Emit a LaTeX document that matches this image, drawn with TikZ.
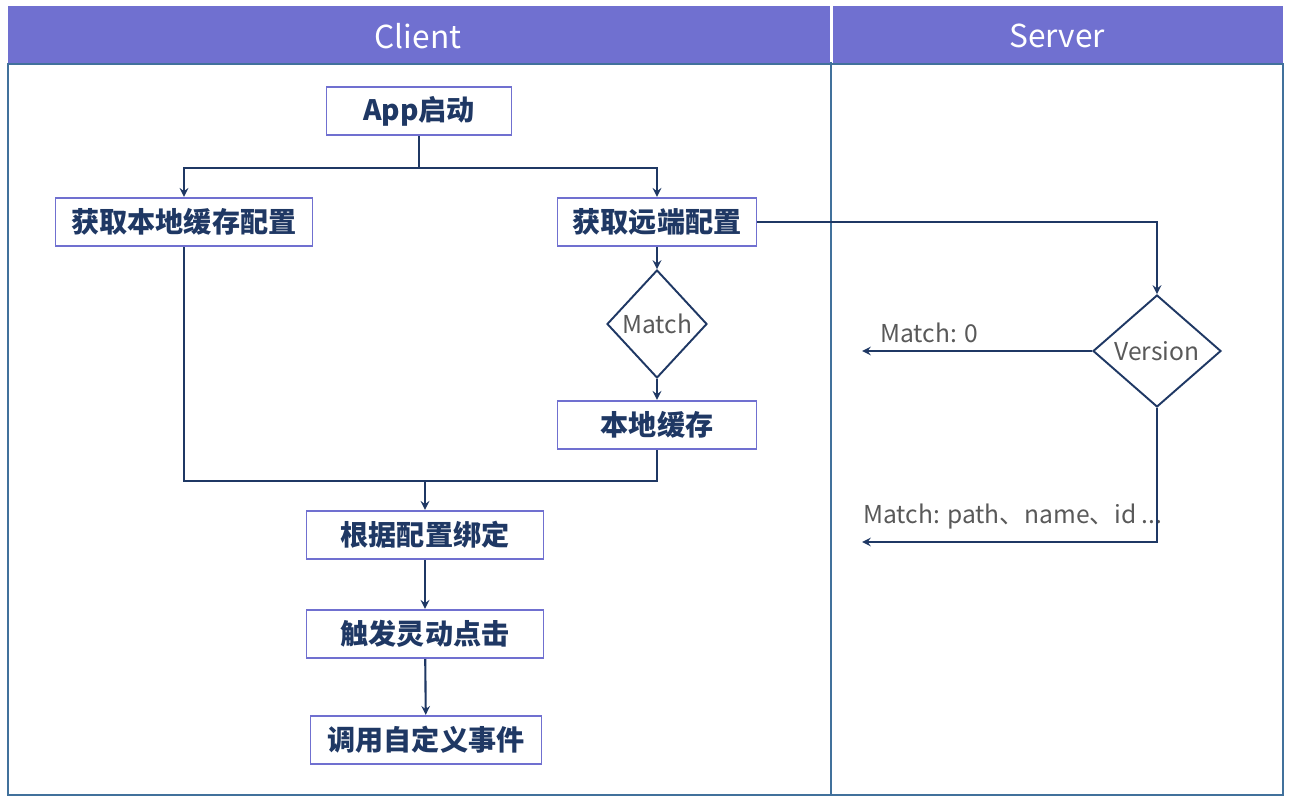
\documentclass[tikz,border=0pt]{standalone}
\usepackage{fontspec}
\newfontfamily\cjk{Noto Sans CJK SC}
\usetikzlibrary{shapes.geometric, arrows, positioning}
\definecolor{lane}{RGB}{112,112,208}
\definecolor{frame}{RGB}{65,113,156}
\definecolor{navy}{RGB}{31,56,100}
\definecolor{note}{RGB}{89,89,89}
\tikzstyle{arrow} = [navy, line width=1.2pt, ->, >=stealth]
\tikzstyle{link} = [navy, line width=1.2pt]
\tikzstyle{stepbox} = [rectangle, draw=lane, line width=1.1pt, fill=white, text=navy, font=\cjk\bfseries\fontsize{16}{18}\selectfont, minimum height=0.97cm, inner sep=0pt]
\tikzstyle{decision} = [diamond, draw=navy, line width=1.1pt, fill=white, text=note, font=\cjk\fontsize{14}{16}\selectfont, inner sep=0pt]
\tikzstyle{lanehead} = [text=white, font=\cjk\fontsize{18}{20}\selectfont]
\tikzstyle{notetext} = [text=note, font=\cjk\fontsize{14}{16}\selectfont, inner sep=0pt]

\begin{document}
\begin{tikzpicture}[x=0.02cm, y=-0.02cm]
\useasboundingbox (0,0) rectangle (1292,804);

\fill[lane] (8,6) rectangle (830,64);
\fill[lane] (833,6) rectangle (1283,64);
\draw[frame, line width=1.2pt] (8,64) rectangle (1283,795);
\draw[frame, line width=1.2pt] (831,62) -- (831,795);
\node (client) [lanehead] at (418,36) {Client};
\node (server) [lanehead] at (1057,36) {Server};

\node (app) [stepbox, minimum width=3.7cm] at (419,111) {App启动};
\node (localcfg) [stepbox, minimum width=5.14cm] at (184,222) {获取本地缓存配置};
\node (remotecfg) [stepbox, minimum width=3.98cm] at (657,222) {获取远端配置};
\node (match) [decision, minimum width=2cm, minimum height=2.16cm] at (657,324) {Match};
\node (cache) [stepbox, minimum width=3.98cm] at (657,425) {本地缓存};
\node (bind) [stepbox, minimum width=4.74cm] at (425,535) {根据配置绑定};
\node (trigger) [stepbox, minimum width=4.74cm] at (425,634) {触发灵动点击};
\node (event) [stepbox, minimum width=4.62cm] at (426,740) {调用自定义事件};
\node (version) [decision, minimum width=2.56cm, minimum height=2.24cm] at (1157,351) {Version};

\coordinate (split) at (419,168);
\coordinate (join) at (425,481);
\coordinate (outzero) at (862,351);
\coordinate (outall) at (862,542);

\node (zerolabel) [notetext, anchor=base west] at (880,342) {Match: 0};
\node (alllabel) [notetext, anchor=base west] at (863,523) {Match: path、name、id ...};

\draw[arrow] (app.south) -- (split) -| (localcfg.north);
\draw[arrow] (split) -| (remotecfg.north);
\draw[arrow] (remotecfg) -- (match);
\draw[arrow] (match) -- (cache);
\draw[link] (localcfg.south) |- (join);
\draw[link] (cache.south) |- (join);
\draw[arrow] (join) -- (bind);
\draw[arrow] (bind) -- (trigger);
\draw[arrow] (trigger) -- (event);
\draw[arrow] (remotecfg.east) -| (version.north);
\draw[arrow] (version.west) -- (outzero);
\draw[arrow] (version.south) |- (outall);
\end{tikzpicture}
\end{document}
